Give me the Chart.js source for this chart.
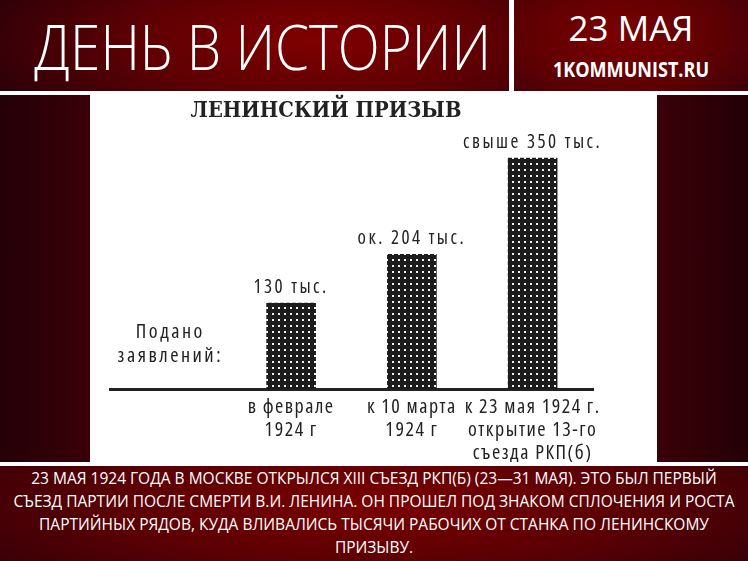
<!DOCTYPE html>
<html lang="ru">
<head>
<meta charset="utf-8">
<script src="https://cdn.jsdelivr.net/npm/chart.js@4.4.1/dist/chart.umd.min.js"></script>
<style>
  html, body { margin: 0; padding: 0; }
  body { width: 748px; height: 561px; background: #fff; position: relative; overflow: hidden; font-family: 'Open Sans', sans-serif; color: #fff; }
  .box { position: absolute; }
  #head { left: 0; top: 0; width: 509px; height: 91px; background: radial-gradient(ellipse 70% 120% at 62% 45%, #800000 0%, #5e0003 50%, #2c0008 100%); }
  #head div { position: absolute; left: 0; right: 0; top: 8px; text-align: center; font-size: 62px; font-weight: 300; line-height: 76px; white-space: nowrap; transform: translateX(5px) scaleX(0.885); }
  #date { left: 514px; top: 0; width: 234px; height: 91px; background: radial-gradient(ellipse 80% 110% at 45% 40%, #7a0000 0%, #5c0003 55%, #33000a 100%); text-align: center; }
  #date .d { position: absolute; left: 0; right: 0; top: 6px; font-size: 35px; line-height: 44px; }
  #date .s { position: absolute; left: 0; right: 0; top: 55px; font-size: 21px; line-height: 28px; font-weight: 700; transform: scaleX(0.86); }
  #sideL { left: 0; top: 95px; width: 90px; height: 367px; background: linear-gradient(90deg, #240006, #3a0008); }
  #sideR { left: 657px; top: 95px; width: 91px; height: 367px; background: linear-gradient(90deg, #3a0008, #240006); }
  #panel { left: 90px; top: 95px; width: 567px; height: 367px; background: #fff; }
  #title { left: 126px; top: 96px; width: 400px; text-align: center; color: #222; font-family: 'DejaVu Serif', serif; font-weight: 700; font-size: 22px; line-height: 26px; transform: scaleX(0.89); }
  #foot { left: 0; top: 466px; width: 748px; height: 95px; background: radial-gradient(ellipse 70% 130% at 50% 40%, #7a0000 0%, #5a0004 50%, #2c0008 100%); text-align: center; font-size: 15.5px; line-height: 23px; }
  #foot div { padding-top: 1px; }
</style>
</head>
<body>
<div class="box" id="head"><div>ДЕНЬ В ИСТОРИИ</div></div>
<div class="box" id="date"><div class="d">23 МАЯ</div><div class="s">1KOMMUNIST.RU</div></div>
<div class="box" id="sideL"></div>
<div class="box" id="sideR"></div>
<div class="box" id="panel"><canvas id="chart" width="567" height="367"></canvas></div>
<div class="box" id="title">ЛЕНИНСКИЙ ПРИЗЫВ</div>
<div class="box" id="foot"><div>23 МАЯ 1924 ГОДА В МОСКВЕ ОТКРЫЛСЯ XIII СЪЕЗД РКП(Б) (23—31 МАЯ). ЭТО БЫЛ ПЕРВЫЙ<br>СЪЕЗД ПАРТИИ ПОСЛЕ СМЕРТИ В.И. ЛЕНИНА. ОН ПРОШЕЛ ПОД ЗНАКОМ СПЛОЧЕНИЯ И РОСТА<br>ПАРТИЙНЫХ РЯДОВ, КУДА ВЛИВАЛИСЬ ТЫСЯЧИ РАБОЧИХ ОТ СТАНКА ПО ЛЕНИНСКОМУ<br>ПРИЗЫВУ.</div></div>
<script>
const categories = [
  '',
  ['в феврале', '1924 г'],
  ['к 10 марта', '1924 г'],
  ['к 23 мая 1924 г.', 'открытие 13-го', 'съезда РКП(б)'],
];
const applications = [null, 130, 204, 350];
const valueLabels = ['', '130 тыс.', 'ок. 204 тыс.', 'свыше 350 тыс.'];
const sideCaption = ['Подано', 'заявлений:'];

const INK = '#222';
const FAMILY = "'Open Sans', sans-serif";

function dotPattern() {
  const c = document.createElement('canvas');
  c.width = 6; c.height = 6;
  const g = c.getContext('2d');
  g.fillStyle = '#1c1c1c';
  g.fillRect(0, 0, 6, 6);
  g.fillStyle = '#f2f2f2';
  g.fillRect(2, 2, 2, 2);
  return g.createPattern(c, 'repeat');
}

// the scan uses spaced-out condensed type
const spacing = {
  id: 'spacing',
  beforeDraw(chart) { chart.ctx.letterSpacing = '1.5px'; },
};

const barLabels = {
  id: 'barLabels',
  afterDatasetsDraw(chart) {
    const { ctx, scales } = chart;
    const meta = chart.getDatasetMeta(0);
    ctx.save();
    ctx.fillStyle = INK;
    ctx.textAlign = 'center';
    ctx.textBaseline = 'alphabetic';
    ctx.font = 'condensed 19px ' + FAMILY;
    ctx.letterSpacing = '2.5px';
    meta.data.forEach((bar, i) => {
      if (!valueLabels[i]) return;
      ctx.fillText(valueLabels[i], bar.x, bar.y - 10);
    });
    const x = scales.x.getPixelForValue(0);
    const y0 = scales.y.getPixelForValue(0);
    ctx.font = 'condensed 20px ' + FAMILY;
    sideCaption.forEach((line, k) => {
      ctx.fillText(line, x, y0 - 27 - (sideCaption.length - 1 - k) * 24);
    });
    ctx.restore();
  },
};

new Chart(document.getElementById('chart'), {
  type: 'bar',
  data: {
    labels: categories,
    datasets: [{
      data: applications,
      backgroundColor: dotPattern(),
      borderWidth: 0,
      barThickness: 49,
    }],
  },
  options: {
    responsive: false,
    animation: false,
    layout: { padding: { left: 20, right: 64, top: 30, bottom: 0 } },
    plugins: { legend: { display: false }, tooltip: { enabled: false } },
    scales: {
      x: {
        grid: { display: false, drawTicks: false },
        border: { display: true, color: INK, width: 3 },
        // weight slot carries the font-stretch keyword into the canvas font string
        ticks: { color: INK, padding: 7, maxRotation: 0, autoSkip: false, font: { family: FAMILY, weight: 'condensed', size: 20, lineHeight: 1.15 } },
        afterFit(scale) { scale.height = 73; },
      },
      y: { display: false, min: 0, max: 400 },
    },
  },
  plugins: [spacing, barLabels],
});
</script>
</body>
</html>
